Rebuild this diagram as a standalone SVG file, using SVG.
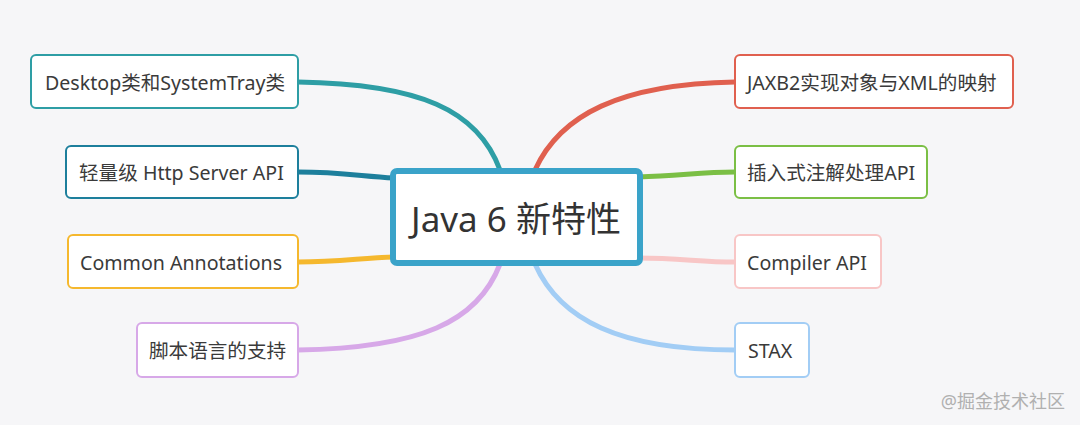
<svg xmlns="http://www.w3.org/2000/svg" width="1080" height="425" viewBox="0 0 1080 425">
<style>
.bg{fill:#f6f6f8}
.box{fill:#ffffff;stroke-width:2}
.t{font-family:"Noto Sans","Noto Sans CJK SC",sans-serif;font-size:19.6px;fill:#3a3a3a;dominant-baseline:central}
.c{fill:none;stroke-linecap:round}
</style>
<rect class="bg" x="0" y="0" width="1080" height="425"/>
<g id="connectors">
<path class="c" d="M298,82 C420,84 478,110 500,170" stroke="#2e9ea5" stroke-width="5"/>
<path class="c" d="M298,172 C340,172 360,176 394,178" stroke="#1d7f9c" stroke-width="5"/>
<path class="c" d="M298,262 C340,262 360,258 394,257" stroke="#f5b82e" stroke-width="5"/>
<path class="c" d="M298,350 C420,348 478,322 500,264" stroke="#d7a8e8" stroke-width="5"/>
<path class="c" d="M535,170 C560,115 620,84 735,82" stroke="#e0604f" stroke-width="5"/>
<path class="c" d="M638,177 C680,176 700,172 735,172" stroke="#7bbf45" stroke-width="5"/>
<path class="c" d="M638,258 C680,258 700,262 735,262" stroke="#f8c6c6" stroke-width="5"/>
<path class="c" d="M535,264 C560,320 620,350 735,350" stroke="#a2cdf5" stroke-width="5"/>
</g>
<g id="n-desktop"><rect class="box" x="31" y="55" width="267" height="53" rx="5" stroke="#2e9ea5"/><text class="t" x="45" y="82">Desktop类和SystemTray类</text></g>
<g id="n-http"><rect class="box" x="66" y="146" width="232" height="52" rx="5" stroke="#1d7f9c"/><text class="t" x="79" y="172">轻量级 Http Server API</text></g>
<g id="n-common"><rect class="box" x="68" y="235" width="230" height="53" rx="5" stroke="#f5b82e"/><text class="t" x="80" y="262">Common Annotations</text></g>
<g id="n-script"><rect class="box" x="137" y="323" width="161" height="54" rx="5" stroke="#d7a8e8"/><text class="t" x="149" y="350">脚本语言的支持</text></g>
<g id="n-jaxb"><rect class="box" x="735" y="55" width="278" height="53" rx="5" stroke="#e0604f"/><text class="t" x="747" y="82">JAXB2实现对象与XML的映射</text></g>
<g id="n-apt"><rect class="box" x="735" y="146" width="192" height="52" rx="5" stroke="#7bbf45"/><text class="t" x="747" y="172">插入式注解处理API</text></g>
<g id="n-compiler"><rect class="box" x="735" y="235" width="146" height="53" rx="5" stroke="#f8c6c6"/><text class="t" x="747" y="262">Compiler API</text></g>
<g id="n-stax"><rect class="box" x="735" y="323" width="74" height="54" rx="5" stroke="#a2cdf5"/><text class="t" x="748" y="350">STAX</text></g>
<g id="n-center"><rect x="393" y="171" width="247" height="92" rx="4" fill="#ffffff" stroke="#3aa3c9" stroke-width="6"/><text x="516" y="218" text-anchor="middle" style="font-family:'Noto Sans','Noto Sans CJK SC',sans-serif;font-size:35px;fill:#333;dominant-baseline:central">Java 6 新特性</text></g>
<text x="1065" y="401" text-anchor="end" style="font-family:'Noto Sans','Noto Sans CJK SC',sans-serif;font-size:18px;fill:#b0b0b0;dominant-baseline:central">@掘金技术社区</text>
</svg>
